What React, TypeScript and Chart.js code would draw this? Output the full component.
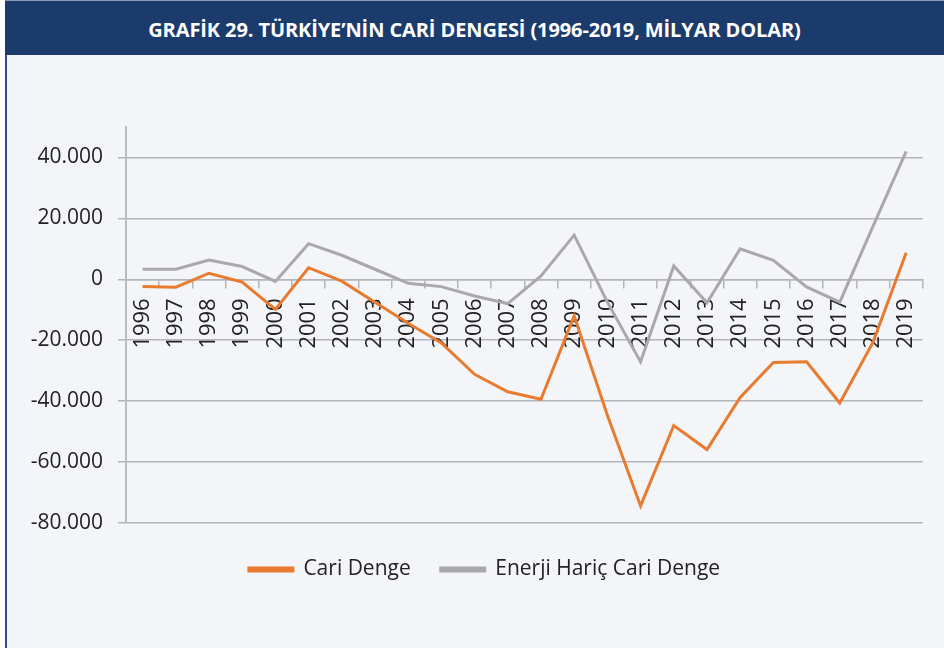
import React, { useEffect, useRef } from "react";
import { Chart, registerables } from "chart.js";

Chart.register(...registerables);

const TITLE = "GRAFİK 29. TÜRKİYE’NİN CARİ DENGESİ (1996-2019, MİLYAR DOLAR)";
const YEARS = [
  "1996", "1997", "1998", "1999", "2000", "2001", "2002", "2003", "2004", "2005", "2006", "2007",
  "2008", "2009", "2010", "2011", "2012", "2013", "2014", "2015", "2016", "2017", "2018", "2019",
];
const CARI_DENGE = [
  -2400, -2600, 2000, -900, -9900, 3800, -600, -7500, -14400, -20900, -31200, -36900,
  -39400, -12000, -44600, -74400, -48000, -55900, -38800, -27300, -27100, -40600, -20700, 8700,
];
const ENERJI_HARIC = [
  3300, 3300, 6300, 4200, -700, 11700, 7900, 3300, -1300, -2400, -5500, -8000,
  1100, 14500, -7500, -27100, 4400, -7700, 10000, 6200, -2500, -7500, 17400, 42000,
];
const SERIES_NAMES = ["Cari Denge", "Enerji Hariç Cari Denge"];
const Y_TICKS = [-80000, -60000, -40000, -20000, 0, 20000, 40000];
const Y_MIN = -80000;
const Y_MAX = 50000;

const fmt = (v: number) => {
  const s = Math.round(Math.abs(v)).toString().replace(/\B(?=(\d{3})+(?!\d))/g, ".");
  return (v < 0 ? "-" : "") + s;
};

const legendShift = {
  id: "legendShift",
  afterLayout(chart: any) {
    const lg = chart.legend;
    if (lg) {
      lg.left += 23;
      lg.right += 23;
    }
  },
};

export default function App() {
  const ref = useRef<HTMLCanvasElement | null>(null);
  useEffect(() => {
    if (!ref.current) return;
    const font = { family: "'Open Sans', sans-serif", size: 21 };
    const xfont = { family: "'Open Sans', sans-serif", size: 22 };
    const chart = new Chart(ref.current, {
      type: "line",
      data: {
        labels: YEARS,
        datasets: [
          {
            label: SERIES_NAMES[0],
            data: CARI_DENGE,
            borderColor: "#e97b30",
            backgroundColor: "#e97b30",
            borderWidth: 3,
            pointRadius: 0,
            tension: 0,
          },
          {
            label: SERIES_NAMES[1],
            data: ENERJI_HARIC,
            borderColor: "#a9a9ab",
            backgroundColor: "#a9a9ab",
            borderWidth: 3,
            pointRadius: 0,
            tension: 0,
          },
        ],
      },
      plugins: [legendShift],
      options: {
        animation: false,
        responsive: false,
        maintainAspectRatio: false,
        layout: { padding: { left: 0, right: 21, top: 71, bottom: 58 } },
        plugins: {
          title: { display: false },
          tooltip: { enabled: false },
          legend: {
            position: "bottom",
            labels: {
              font,
              color: "#222222",
              boxWidth: 44,
              boxHeight: 3,
              padding: 30,
            },
          },
        },
        scales: {
          x: {
            type: "category",
            position: { y: 0 } as any,
            offset: true,
            grid: {
              display: true,
              drawOnChartArea: false,
              offset: true,
              tickLength: 8,
              color: "#b3b5ba",
              lineWidth: 1.5,
            },
            border: { display: true, color: "#b3b5ba", width: 1.5 },
            ticks: {
              autoSkip: false,
              minRotation: 90,
              maxRotation: 90,
              padding: 11,
              color: "#222222",
              font: xfont,
            },
          },
          xspace: {
            type: "category",
            position: "bottom",
            display: true,
            grid: { display: false, drawTicks: false },
            border: { display: false },
            ticks: { display: false },
            afterFit: (s: any) => {
              s.height = 6;
            },
          },
          y: {
            min: Y_MIN,
            max: Y_MAX,
            afterFit: (s: any) => {
              s.width = 126;
            },
            afterBuildTicks: (s: any) => {
              s.ticks = Y_TICKS.map((v) => ({ value: v }));
            },
            grid: {
              color: "#b3b5ba",
              lineWidth: 1.5,
              tickLength: 8,
            },
            border: { display: true, color: "#b9bbc0", width: 2 },
            ticks: {
              padding: 15,
              color: "#222222",
              font,
              callback: (v: any) => fmt(Number(v)),
            },
          },
        },
      },
    });
    return () => chart.destroy();
  }, []);

  return (
    <div
      style={{
        position: "absolute",
        left: 0,
        top: 0,
        width: 944,
        height: 648,
        background: "#ffffff",
        overflow: "hidden",
      }}
    >
      <div
        style={{
          position: "absolute",
          left: 5,
          top: 0,
          width: 939,
          height: 648,
          background: "#f3f5f9",
        }}
      />
      <div
        style={{
          position: "absolute",
          left: 5,
          top: 0,
          width: 939,
          height: 55,
          background: "#1b3b6d",
          borderTop: "1px solid #8a9ab5",
          boxSizing: "border-box",
          display: "flex",
          alignItems: "center",
          justifyContent: "center",
        }}
      >
        <span
          style={{
            color: "#ffffff",
            fontFamily: "'Open Sans', sans-serif",
            fontWeight: 700,
            fontSize: 20,
            letterSpacing: -0.1,
            marginLeft: 0,
            marginTop: 2,
          }}
        >
          {TITLE}
        </span>
      </div>
      <div
        style={{
          position: "absolute",
          left: 5,
          top: 55,
          width: 2,
          height: 593,
          background: "#2d4f8a",
        }}
      />
      <div style={{ position: "absolute", left: 0, top: 56, width: 944, height: 592 }}>
        <canvas ref={ref} width={944} height={592} style={{ width: 944, height: 592 }} />
      </div>
    </div>
  );
}
